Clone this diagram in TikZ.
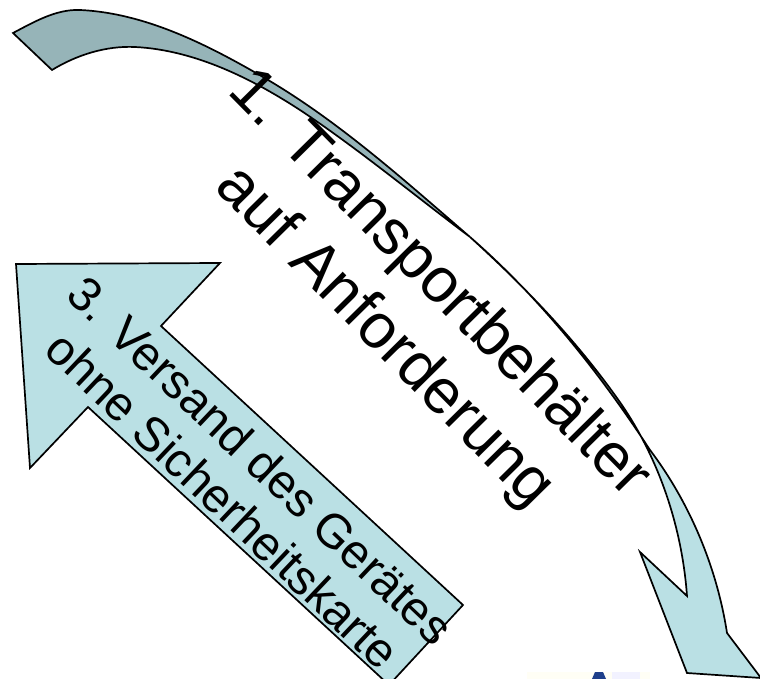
\documentclass[tikz,border=0pt]{standalone}
\usepackage{fontspec}
\setmainfont{Liberation Sans}
\definecolor{darkband}{HTML}{96B4B8}
\definecolor{lightband}{HTML}{BAE0E4}
\definecolor{navyblob}{HTML}{1F3F8A}
\tikzset{
  band/.style={draw=black, line width=1.7pt, line join=miter},
  lbl/.style={align=center, inner sep=0pt, text=black},
}
\begin{document}
\begin{tikzpicture}[x=1pt,y=-1pt]
\useasboundingbox (0,0) rectangle (760,679);
\clip (0,0) rectangle (760,679);
\coordinate (cross) at (470,237);
\coordinate (ctip) at (761,678);
% curved arrow, upper (back) part
\draw[band, fill=darkband]
  (13,33) .. controls (34,22) and (56,9) .. (80,10)
  .. controls (145,13) and (207,44.5) .. (263,77)
  .. controls (338,120.5) and (404,180) .. (cross)
  .. controls (414,195) and (361,151) .. (303,112)
  .. controls (253,79) and (195,50) .. (135,47)
  .. controls (106,45.6) and (76.5,55) .. (52,70)
  -- cycle;
% curved arrow, lower (front) part with head
\draw[band, fill=lightband]
  (cross) .. controls (540,298) and (599,372) .. (650,450)
  .. controls (690,503) and (717,568) .. (727,633)
  -- (ctip) -- (687,673) -- (640,552) -- (687,596)
  .. controls (682,526) and (658,455) .. (617,398)
  .. controls (575,339) and (524,286) .. (cross)
  -- cycle;
% straight arrow
\draw[band, fill=lightband]
  (16,264) -- (220,263) -- (161,326) -- (463,605) -- (389,685) -- (88,407) -- (30,468) -- cycle;
% partial picture at bottom
\fill[yellow!4] (527,672) rectangle (650,679);
\fill[blue!5] (612,672) rectangle (640,679);
\fill[navyblob] (592,679) -- (595,672) -- (603,672) -- (606,679) -- cycle;
% labels
\node[lbl, rotate=-45.4, font=\fontsize{63}{76}\selectfont] (t1) at (411,311)
  {1. Transportbehälter\\auf Anforderung};
\node[lbl, rotate=-43.5, font=\fontsize{48}{55}\selectfont] (t3) at (242,480)
  {3. Versand des Gerätes\\ohne Sicherheitskarte};
\end{tikzpicture}
\end{document}
